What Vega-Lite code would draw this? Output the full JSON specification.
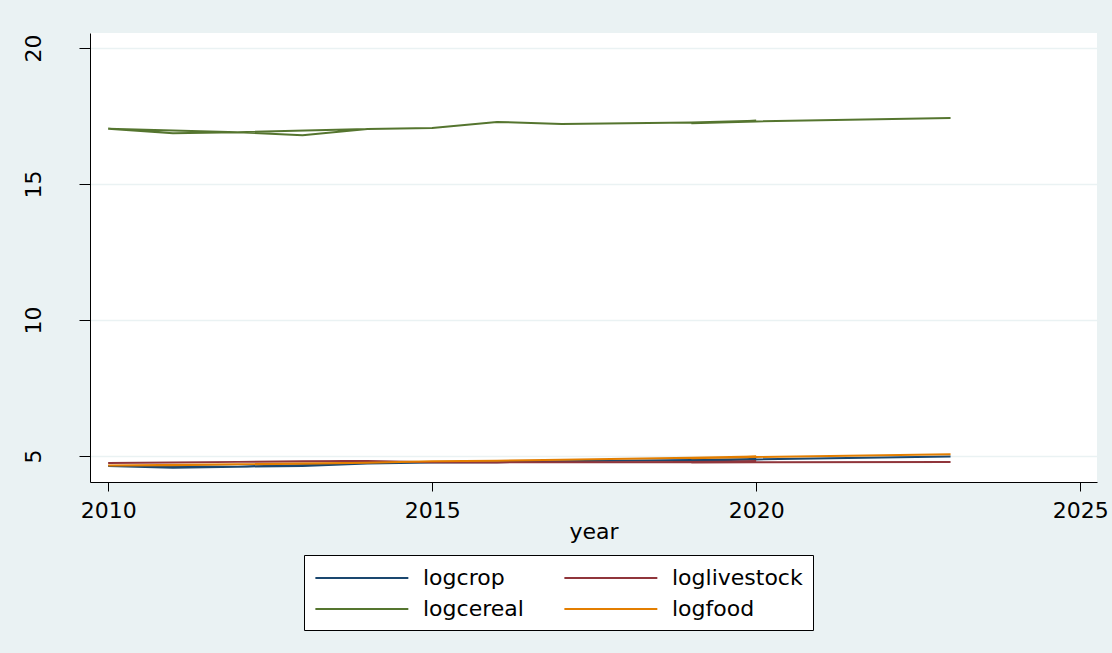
{
  "$schema": "https://vega.github.io/schema/vega-lite/v6.json",
  "width": 1007,
  "height": 449,
  "autosize": {"type": "none"},
  "padding": {"left": 90, "top": 33, "right": 15, "bottom": 171},
  "background": "#eaf2f3",
  "config": {
    "view": {"fill": "white", "stroke": null},
    "font": "DejaVu Sans"
  },
  "data": {
    "values": [
      {"series": "logcrop", "seq": 1, "year": 2014, "val": 4.72},
      {"series": "logcrop", "seq": 2, "year": 2012, "val": 4.60},
      {"series": "logcrop", "seq": 3, "year": 2010, "val": 4.63},
      {"series": "logcrop", "seq": 4, "year": 2011, "val": 4.56},
      {"series": "logcrop", "seq": 5, "year": 2012, "val": 4.60},
      {"series": "logcrop", "seq": 6, "year": 2013, "val": 4.63},
      {"series": "logcrop", "seq": 7, "year": 2014, "val": 4.72},
      {"series": "logcrop", "seq": 8, "year": 2015, "val": 4.76},
      {"series": "logcrop", "seq": 9, "year": 2016, "val": 4.77},
      {"series": "logcrop", "seq": 10, "year": 2017, "val": 4.80},
      {"series": "logcrop", "seq": 11, "year": 2019, "val": 4.85},
      {"series": "logcrop", "seq": 12, "year": 2020, "val": 4.89},
      {"series": "logcrop", "seq": 13, "year": 2019, "val": 4.82},
      {"series": "logcrop", "seq": 14, "year": 2020, "val": 4.87},
      {"series": "logcrop", "seq": 15, "year": 2023, "val": 4.98},

      {"series": "loglivestock", "seq": 1, "year": 2014, "val": 4.81},
      {"series": "loglivestock", "seq": 2, "year": 2012, "val": 4.78},
      {"series": "loglivestock", "seq": 3, "year": 2010, "val": 4.74},
      {"series": "loglivestock", "seq": 4, "year": 2011, "val": 4.76},
      {"series": "loglivestock", "seq": 5, "year": 2012, "val": 4.78},
      {"series": "loglivestock", "seq": 6, "year": 2013, "val": 4.80},
      {"series": "loglivestock", "seq": 7, "year": 2014, "val": 4.81},
      {"series": "loglivestock", "seq": 8, "year": 2015, "val": 4.77},
      {"series": "loglivestock", "seq": 9, "year": 2016, "val": 4.76},
      {"series": "loglivestock", "seq": 10, "year": 2017, "val": 4.77},
      {"series": "loglivestock", "seq": 11, "year": 2019, "val": 4.78},
      {"series": "loglivestock", "seq": 12, "year": 2020, "val": 4.79},
      {"series": "loglivestock", "seq": 13, "year": 2019, "val": 4.76},
      {"series": "loglivestock", "seq": 14, "year": 2020, "val": 4.77},
      {"series": "loglivestock", "seq": 15, "year": 2023, "val": 4.78},

      {"series": "logcereal", "seq": 1, "year": 2014, "val": 17.02},
      {"series": "logcereal", "seq": 2, "year": 2012, "val": 16.90},
      {"series": "logcereal", "seq": 3, "year": 2010, "val": 17.03},
      {"series": "logcereal", "seq": 4, "year": 2011, "val": 16.86},
      {"series": "logcereal", "seq": 5, "year": 2012, "val": 16.90},
      {"series": "logcereal", "seq": 6, "year": 2013, "val": 16.79},
      {"series": "logcereal", "seq": 7, "year": 2014, "val": 17.02},
      {"series": "logcereal", "seq": 8, "year": 2015, "val": 17.06},
      {"series": "logcereal", "seq": 9, "year": 2016, "val": 17.28},
      {"series": "logcereal", "seq": 10, "year": 2017, "val": 17.20},
      {"series": "logcereal", "seq": 11, "year": 2019, "val": 17.26},
      {"series": "logcereal", "seq": 12, "year": 2020, "val": 17.32},
      {"series": "logcereal", "seq": 13, "year": 2019, "val": 17.23},
      {"series": "logcereal", "seq": 14, "year": 2020, "val": 17.30},
      {"series": "logcereal", "seq": 15, "year": 2023, "val": 17.42},

      {"series": "logfood", "seq": 1, "year": 2014, "val": 4.75},
      {"series": "logfood", "seq": 2, "year": 2012, "val": 4.69},
      {"series": "logfood", "seq": 3, "year": 2010, "val": 4.65},
      {"series": "logfood", "seq": 4, "year": 2011, "val": 4.66},
      {"series": "logfood", "seq": 5, "year": 2012, "val": 4.69},
      {"series": "logfood", "seq": 6, "year": 2013, "val": 4.71},
      {"series": "logfood", "seq": 7, "year": 2014, "val": 4.75},
      {"series": "logfood", "seq": 8, "year": 2015, "val": 4.80},
      {"series": "logfood", "seq": 9, "year": 2016, "val": 4.82},
      {"series": "logfood", "seq": 10, "year": 2017, "val": 4.86},
      {"series": "logfood", "seq": 11, "year": 2019, "val": 4.93},
      {"series": "logfood", "seq": 12, "year": 2020, "val": 4.98},
      {"series": "logfood", "seq": 13, "year": 2019, "val": 4.91},
      {"series": "logfood", "seq": 14, "year": 2020, "val": 4.96},
      {"series": "logfood", "seq": 15, "year": 2023, "val": 5.06}
    ]
  },
  "mark": {"type": "line", "strokeWidth": 2},
  "encoding": {
    "x": {
      "field": "year",
      "type": "quantitative",
      "scale": {"domain": [2009.72, 2025.26], "nice": false, "zero": false},
      "axis": {
        "values": [2010, 2015, 2020, 2025],
        "format": "d",
        "title": "year",
        "grid": false,
        "domainColor": "black",
        "domainWidth": 1,
        "tickColor": "black",
        "tickSize": 9,
        "labelFontSize": 22,
        "labelColor": "black",
        "labelPadding": 9,
        "titleFontSize": 22,
        "titleFontWeight": "normal",
        "titleColor": "black",
        "titlePadding": 0
      }
    },
    "y": {
      "field": "val",
      "type": "quantitative",
      "scale": {"domain": [4.04, 20.55], "nice": false, "zero": false},
      "axis": {
        "values": [5, 10, 15, 20],
        "title": null,
        "grid": true,
        "gridColor": "#eaf2f3",
        "gridWidth": 1.5,
        "domainColor": "black",
        "domainWidth": 1,
        "tickColor": "black",
        "tickSize": 11,
        "labelAngle": -90,
        "labelAlign": "center",
        "labelBaseline": "alphabetic",
        "labelPadding": 39,
        "labelFontSize": 22,
        "labelColor": "black"
      }
    },
    "color": {
      "field": "series",
      "type": "nominal",
      "scale": {
        "domain": ["logcrop", "loglivestock", "logcereal", "logfood"],
        "range": ["#1a476f", "#90353b", "#55752f", "#e37e00"]
      },
      "legend": {
        "title": null,
        "orient": "none",
        "direction": "horizontal",
        "legendX": 214,
        "legendY": 522,
        "columns": 2,
        "symbolType": "M-1,0H7",
        "symbolSize": 540,
        "symbolStrokeWidth": 2,
        "labelFontSize": 22,
        "labelColor": "black",
        "labelOffset": 83,
        "columnPadding": 36,
        "rowPadding": 7,
        "fillColor": "white",
        "strokeColor": "black",
        "padding": 10
      }
    },
    "order": {"field": "seq"}
  }
}
